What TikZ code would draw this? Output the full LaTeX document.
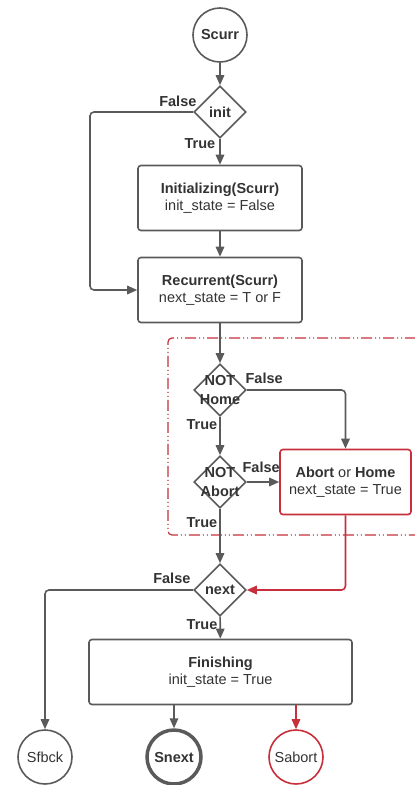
\documentclass[tikz,border=0pt]{standalone}
\usepackage{fontspec}
\setmainfont{Liberation Sans}
\usetikzlibrary{shapes.geometric, positioning, arrows.meta}

\definecolor{linegray}{HTML}{5A5A5A}
\definecolor{textgray}{HTML}{333333}
\definecolor{abortred}{HTML}{C62F3B}

\begin{document}
\begin{tikzpicture}[x=1pt, y=-1pt,
	font=\fontsize{14.5}{17}\selectfont, text=textgray,
	line width=1.6pt,
	arr/.style={draw=linegray, color=linegray, -{Triangle[length=10pt, width=8.5pt]}, rounded corners=4pt},
	redarr/.style={arr, draw=abortred, color=abortred},
	state/.style={circle, draw=linegray, minimum size=54pt, inner sep=0pt},
	decision/.style={diamond, draw=linegray, minimum size=52pt, inner sep=0pt},
	process/.style={rectangle, draw=linegray, rounded corners=3pt, minimum height=65pt, align=center},
	lbl/.style={font=\fontsize{14.5}{17}\selectfont\bfseries, text=textgray, inner sep=2pt},
	twoline/.style={align=center, font=\fontsize{14.5}{19}\selectfont\bfseries}]
	\useasboundingbox (0,0) rectangle (415,785);

	% main column
	\node[state, font=\fontsize{14.5}{17}\selectfont\bfseries] (scurr) at (220,35) {Scurr};
	\node[decision, label={center:\textbf{init}}] (init) at (220,112) {};
	\node[process, minimum width=164pt] (initz) at (220,198) {\textbf{Initializing(Scurr)}\\init\_state = False};
	\node[process, minimum width=164pt] (recur) at (220,290) {\textbf{Recurrent(Scurr)}\\next\_state = T or F};

	% abort / home check
	\draw[abortred, dash pattern=on 11pt off 3pt on 1pt off 3pt on 1pt off 3pt, line width=1.2pt, rounded corners=4pt]
		(416,338) -- (168,338) -- (168,535) -- (416,535);
	\node[decision, label={[twoline]center:NOT\\Home}] (nhome) at (220,390) {};
	\node[decision, label={[twoline]center:NOT\\Abort}] (nabort) at (220,482) {};
	\node[process, draw=abortred, minimum width=131pt] (abort) at (345.5,482) {\textbf{Abort} or \textbf{Home}\\next\_state = True};

	\node[decision, label={center:\textbf{next}}] (next) at (220,590) {};
	\node[process, minimum width=263pt] (finish) at (220.5,672) {\textbf{Finishing}\\init\_state = True};

	% end states
	\node[state] (sfbck) at (45,757) {Sfbck};
	\node[state, line width=3.5pt, font=\fontsize{14.5}{17}\selectfont\bfseries] (snext) at (174,757) {Snext};
	\node[state, draw=abortred] (sabort) at (296,757) {Sabort};

	\coordinate (fbk) at (90,112);

	\draw[arr] (scurr) -- (init);
	\draw[arr] (init) -- node[lbl, pos=0, below left, xshift=-2pt, yshift=3pt] {True} (initz);
	\draw[arr] (init.west) node[lbl, above left, xshift=6pt, yshift=3pt] {False} -- (fbk) |- (recur.west);
	\draw[arr] (initz) -- (recur);
	\draw[arr] (recur) -- (nhome);
	\draw[arr] (nhome.east) node[lbl, above right, xshift=-4pt, yshift=4pt] {False} -| (abort.north);
	\draw[arr] (nhome) -- node[lbl, pos=0, below left] {True} (nabort);
	\draw[arr] (nabort.east) node[lbl, above right, xshift=-7pt, yshift=7pt] {False} -- (abort.west);
	\draw[arr] (nabort) -- node[lbl, pos=0.1, below left] {True} (next);
	\draw[redarr] (abort.south) |- (next.east);
	\draw[arr] (next.west) node[lbl, above left, yshift=4pt] {False} -| (sfbck.north);
	\draw[arr] (next) -- node[lbl, pos=0, below left] {True} (finish);
	\draw[arr] (snext |- finish.south) -- (snext);
	\draw[redarr] (sabort |- finish.south) -- (sabort);
\end{tikzpicture}
\end{document}
